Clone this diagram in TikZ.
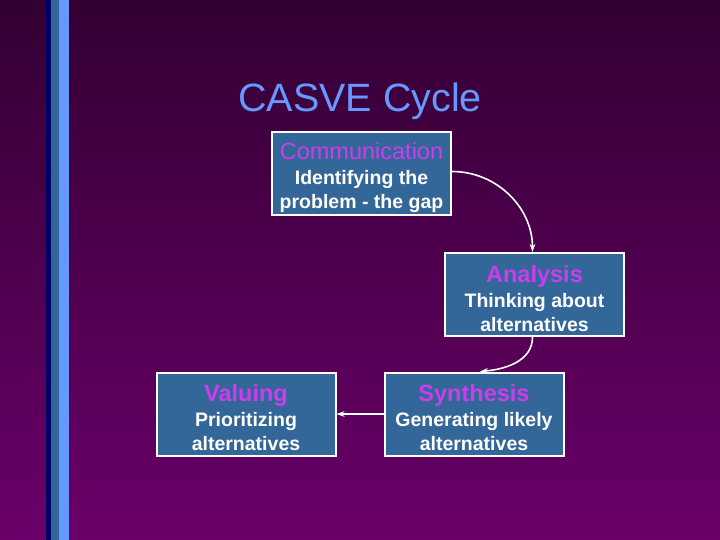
\documentclass[tikz,border=0pt]{standalone}
\usepackage{fontspec}
\setmainfont{Liberation Sans}
\usetikzlibrary{arrows.meta}
\definecolor{bgtop}{HTML}{330033}
\definecolor{bgbot}{HTML}{6A006A}
\definecolor{navy}{HTML}{000066}
\definecolor{steel}{HTML}{336699}
\definecolor{lightblue}{HTML}{6699FF}
\definecolor{mag}{HTML}{CC3DEE}
\tikzset{
  box/.style={draw=white, line width=2pt, fill=steel, minimum width=179pt, minimum height=83pt,
    align=center, text=white, inner sep=0pt, font=\fontsize{19.5}{24}\selectfont\bfseries},
  conn/.style={draw=white, line width=1.6pt, -{Stealth[length=8pt,width=5.5pt]}}
}
\newcommand{\boxtitle}[1]{\rule{0pt}{25pt}{\color{mag}\fontsize{23.5}{26}\selectfont #1}\\[1pt]}
\begin{document}
\begin{tikzpicture}[x=1pt,y=-1pt]
\shade[top color=bgtop, bottom color=bgbot] (0,0) rectangle (720,540);
\useasboundingbox (0,0) rectangle (720,540);
\fill[navy] (46,0) rectangle (51,540);
\fill[steel] (51,0) rectangle (59,540);
\fill[lightblue] (59,0) rectangle (69,540);
\node[text=lightblue, font=\fontsize{39.5}{44}\selectfont] (title) at (360,101) {CASVE Cycle};
\node[box] (comm) at (361.5,173.5) {\boxtitle{\mdseries Communication}Identifying the\\problem - the gap};
\node[box] (ana) at (534.5,294.5) {\boxtitle{Analysis}Thinking about\\alternatives};
\node[box] (syn) at (474,414) {\boxtitle{Synthesis}Generating likely\\alternatives};
\node[box] (val) at (246,414) {\boxtitle{Valuing}Prioritizing\\alternatives};
\draw[conn] ([yshift=2pt]comm.east) to[out=0, in=90] ([xshift=-2pt]ana.north);
\draw[conn] ([xshift=-2pt]ana.south) to[out=-90, in=5] ([xshift=6pt]syn.north);
\draw[conn] (syn.west) -- (val.east);
\end{tikzpicture}
\end{document}
